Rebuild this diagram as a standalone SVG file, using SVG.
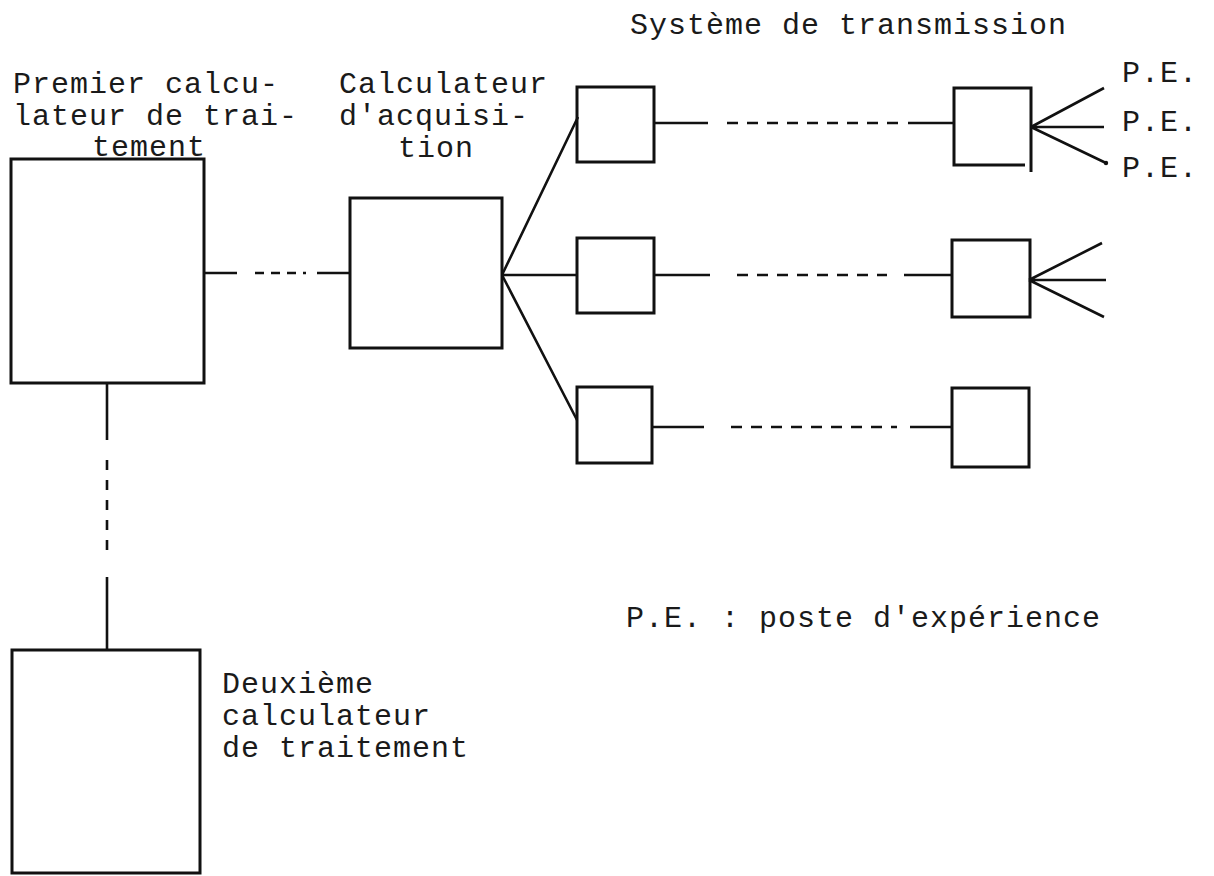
<svg xmlns="http://www.w3.org/2000/svg" width="1214" height="876" viewBox="0 0 1214 876">
<style>
.b{fill:none;stroke:#111;stroke-width:3;stroke-linejoin:miter}
.l{fill:none;stroke:#111;stroke-width:2.6}
.d{fill:none;stroke:#111;stroke-width:2.6}
.d1{stroke-dasharray:9 7}
.d2{stroke-dasharray:11 9}
.d3{stroke-dasharray:10 10}
text{font-family:"Liberation Mono","DejaVu Sans Mono",monospace;font-size:30px;letter-spacing:1px;fill:#1a1a1a}
</style>
<rect width="1214" height="876" fill="#fff"/>
<g id="title"><text x="630" y="34">Système de transmission</text></g>
<g id="premier">
<rect class="b" x="11" y="159" width="193" height="224"/>
<text x="13" y="93">Premier calcu-</text>
<text x="13" y="125">lateur de trai-</text>
<text x="92" y="156">tement</text>
</g>
<g id="acquisition">
<rect class="b" x="350" y="198" width="152" height="150"/>
<text x="339" y="93">Calculateur</text>
<text x="339" y="125">d'acquisi-</text>
<text x="398" y="157">tion</text>
</g>
<g id="boxA"><rect class="b" x="577" y="87" width="77" height="75"/></g>
<g id="boxB"><rect class="b" x="577" y="238" width="77" height="75"/></g>
<g id="boxC"><rect class="b" x="577" y="387" width="75" height="76"/></g>
<g id="boxD"><path class="b" d="M1025 165H954V88H1031V172"/></g>
<g id="boxE"><rect class="b" x="952" y="240" width="78" height="77"/></g>
<g id="boxF"><rect class="b" x="952" y="388" width="77" height="79"/></g>
<g id="deuxieme">
<rect class="b" x="12" y="650" width="188" height="223"/>
<text x="222" y="693">Deuxième</text>
<text x="222" y="725">calculateur</text>
<text x="222" y="757">de traitement</text>
</g>
<g id="pe-labels">
<text x="1122" y="82">P.E.</text>
<text x="1122" y="131">P.E.</text>
<text x="1122" y="177">P.E.</text>
</g>
<g id="legend"><text x="626" y="627">P.E. : poste d'expérience</text></g>
<g id="connectors">
<path class="l" d="M204 273H237M317 273H350"/>
<path class="d d1" d="M255 273H306"/>
<path class="l" d="M502 275L578 117M502 275H577M502 275L577 420"/>
<path class="l" d="M654 123H708M908 123H954"/>
<path class="d d2" d="M727 123H906"/>
<path class="l" d="M654 275H710M904 275H952"/>
<path class="d d2" d="M737 275H887"/>
<path class="l" d="M652 427H704M910 427H952"/>
<path class="d d2" d="M731 427H897"/>
<path class="l" d="M1031 127L1104 88M1031 127H1104M1031 127L1106 163"/>
<circle cx="1106" cy="163" r="2.2" fill="#111"/>
<path class="l" d="M1029 280L1102 243M1029 280H1106M1029 280L1104 317"/>
<path class="l" d="M107 383V440M107 577V650"/>
<path class="d d3" d="M107 460V553"/>
</g>
</svg>
